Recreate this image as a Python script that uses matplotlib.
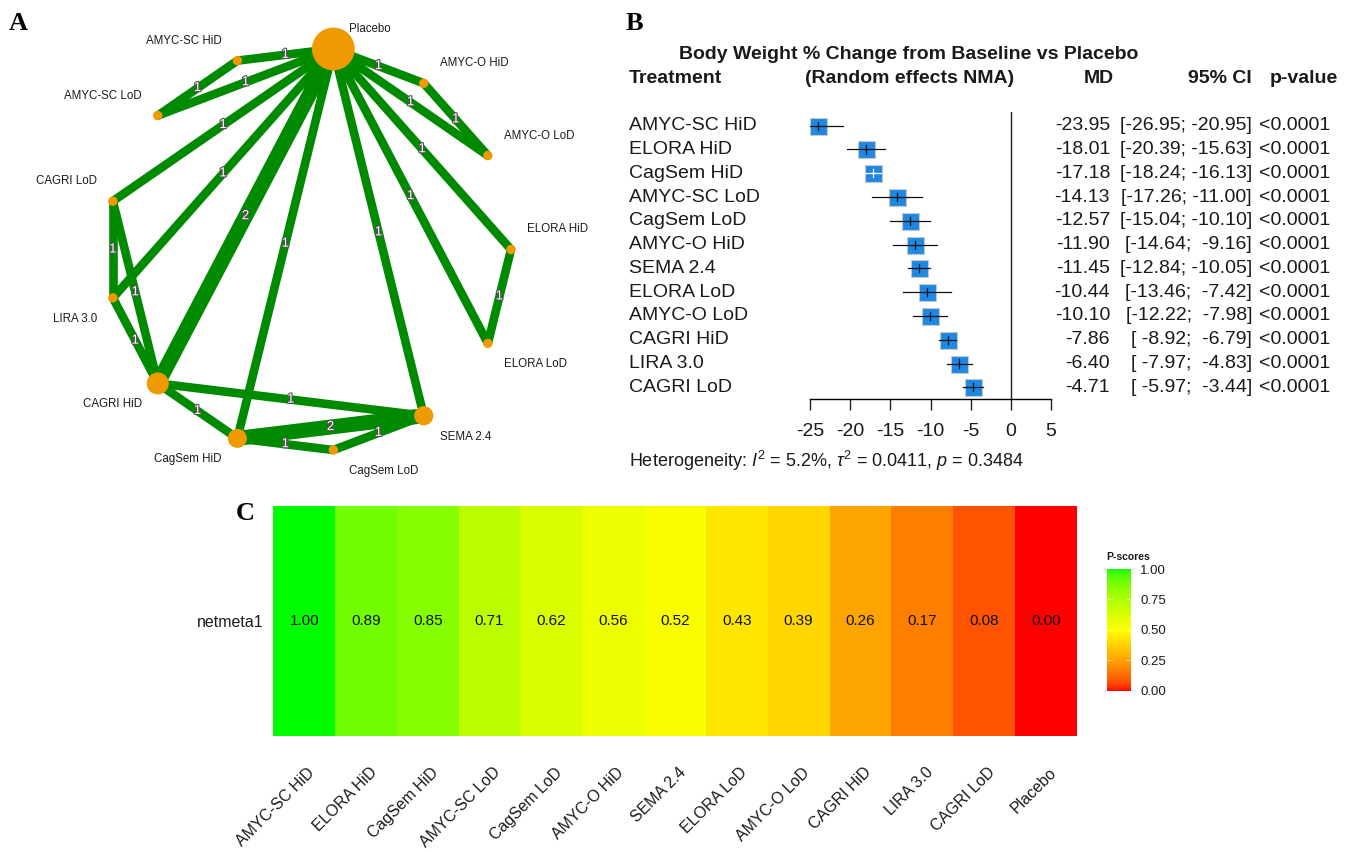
import numpy as np
import matplotlib
matplotlib.use("Agg")
import matplotlib.pyplot as plt
import matplotlib.transforms as mtransforms
import matplotlib.patheffects as pe
from matplotlib.patches import Circle
from matplotlib.colors import ListedColormap

plt.rcParams["font.family"] = ["Liberation Sans", "DejaVu Sans"]
plt.rcParams["mathtext.fontset"] = "custom"
plt.rcParams["mathtext.rm"] = "Liberation Sans"
plt.rcParams["mathtext.it"] = "Liberation Sans:italic"

# ---- data -------------------------------------------------------------
# network (panel A): nodes in circular order, edges with number of studies
net_nodes = ["Placebo", "AMYC-O HiD", "AMYC-O LoD", "ELORA HiD", "ELORA LoD",
             "SEMA 2.4", "CagSem LoD", "CagSem HiD", "CAGRI HiD", "LIRA 3.0",
             "CAGRI LoD", "AMYC-SC LoD", "AMYC-SC HiD"]
edge_from = ["Placebo", "Placebo", "AMYC-SC HiD", "Placebo", "Placebo", "AMYC-O HiD",
             "Placebo", "Placebo", "Placebo", "Placebo", "Placebo", "Placebo", "Placebo",
             "ELORA HiD", "CAGRI LoD", "CAGRI LoD", "LIRA 3.0", "CAGRI HiD", "CAGRI HiD",
             "CagSem HiD", "CagSem HiD", "CagSem LoD"]
edge_to = ["AMYC-SC HiD", "AMYC-SC LoD", "AMYC-SC LoD", "AMYC-O HiD", "AMYC-O LoD",
           "AMYC-O LoD", "CAGRI LoD", "LIRA 3.0", "CAGRI HiD", "CagSem HiD", "SEMA 2.4",
           "ELORA HiD", "ELORA LoD", "ELORA LoD", "LIRA 3.0", "CAGRI HiD", "CAGRI HiD",
           "SEMA 2.4", "CagSem HiD", "SEMA 2.4", "CagSem LoD", "SEMA 2.4"]
edge_studies = [1, 1, 1, 1, 1, 1, 1, 1, 2, 1, 1, 1, 1, 1, 1, 1, 1, 1, 1, 2, 1, 1]

# forest plot (panel B)
treatments = ["AMYC-SC HiD", "ELORA HiD", "CagSem HiD", "AMYC-SC LoD", "CagSem LoD",
              "AMYC-O HiD", "SEMA 2.4", "ELORA LoD", "AMYC-O LoD", "CAGRI HiD",
              "LIRA 3.0", "CAGRI LoD"]
md = [-23.95, -18.01, -17.18, -14.13, -12.57, -11.90, -11.45, -10.44, -10.10, -7.86, -6.40, -4.71]
ci_lo = [-26.95, -20.39, -18.24, -17.26, -15.04, -14.64, -12.84, -13.46, -12.22, -8.92, -7.97, -5.97]
ci_hi = [-20.95, -15.63, -16.13, -11.00, -10.10, -9.16, -10.05, -7.42, -7.98, -6.79, -4.83, -3.44]
p_values = ["<0.0001"] * 12
x_ticks = [-25, -20, -15, -10, -5, 0, 5]

# P-scores (panel C)
rank_names = ["AMYC-SC HiD", "ELORA HiD", "CagSem HiD", "AMYC-SC LoD", "CagSem LoD",
              "AMYC-O HiD", "SEMA 2.4", "ELORA LoD", "AMYC-O LoD", "CAGRI HiD",
              "LIRA 3.0", "CAGRI LoD", "Placebo"]
p_scores = [1.00, 0.89, 0.85, 0.71, 0.62, 0.56, 0.52, 0.43, 0.39, 0.26, 0.17, 0.08, 0.00]
cbar_ticks = [0.0, 0.25, 0.5, 0.75, 1.0]

# ---- style ------------------------------------------------------------
node_radius = {"Placebo": 20.7, "CAGRI HiD": 10.3, "CagSem HiD": 8.8, "SEMA 2.4": 8.9}
small_radius = 4.0
edge_green = "#008A00"
node_orange = "#EE9A00"
box_blue = "#1E88E5"

W, H = 1352, 851
fig = plt.figure(figsize=(W / 100, H / 100), dpi=100)


def axes_px(x0, y0, x1, y1):
    """add axes from pixel box (top-left origin)"""
    return fig.add_axes([x0 / W, 1 - y1 / H, (x1 - x0) / W, (y1 - y0) / H])


panel_font = dict(family=["Liberation Serif", "DejaVu Serif"], fontweight="bold", fontsize=19)
fig.text(18 / W, 1 - 23 / H, "A", ha="center", va="center", **panel_font)
fig.text(634 / W, 1 - 23 / H, "B", ha="center", va="center", **panel_font)
fig.text(245 / W, 1 - 513 / H, "C", ha="center", va="center", **panel_font)

# ---- A: network graph -------------------------------------------------
ax_a = axes_px(0, 0, 620, 490)
ax_a.set_xlim(0, 620)
ax_a.set_ylim(490, 0)
ax_a.axis("off")

cx, cy, rad = 309, 249.5, 202
step = 360 / len(net_nodes)
pos = {}
for k, name in enumerate(net_nodes):
    th = np.deg2rad(90 - step / 4 - k * step)
    pos[name] = (cx + rad * np.cos(th), cy - rad * np.sin(th), th)

for a, b, n in zip(edge_from, edge_to, edge_studies):
    xa, ya, _ = pos[a]
    xb, yb, _ = pos[b]
    ax_a.plot([xa, xb], [ya, yb], color=edge_green, lw=6.2 if n == 1 else 10.8,
              solid_capstyle="butt", zorder=1)

for name in net_nodes:
    x, y, th = pos[name]
    ax_a.add_patch(Circle((x, y), node_radius.get(name, small_radius),
                          color=node_orange, zorder=3))
    right = np.cos(th) > 0
    dy = -20 if np.sin(th) > -0.01 else 21
    ax_a.text(x + (16 if right else -16), y + dy, name, ha="left" if right else "right",
              va="center", fontsize=8.3, color="#1a1a1a")

for a, b, n in zip(edge_from, edge_to, edge_studies):
    xa, ya, _ = pos[a]
    xb, yb, _ = pos[b]
    ax_a.text((xa + xb) / 2, (ya + yb) / 2, str(n), ha="center", va="center",
              fontsize=9.5, color="white", zorder=4,
              path_effects=[pe.withStroke(linewidth=1.6, foreground="#505050")])

# ---- B: forest plot ---------------------------------------------------
row0, row_h = 125.7, 23.78
ax_b = axes_px(810, 111.7, 1051, 399)
ax_b.set_xlim(-25, 5)
ax_b.set_ylim((399 - row0) / row_h, (111.7 - row0) / row_h)
ax_b.patch.set_alpha(0)
for s in ["top", "right", "left"]:
    ax_b.spines[s].set_visible(False)
ax_b.spines["bottom"].set_linewidth(1.0)
ax_b.set_yticks([])
ax_b.set_xticks(x_ticks)
ax_b.set_xticklabels([str(t) for t in x_ticks])
ax_b.tick_params(axis="x", length=8, width=1.0, labelsize=14, pad=9, color="#222222",
                 labelcolor="#1a1a1a")
ax_b.axvline(0, color="#222222", lw=1.0)

sq_px = 17.0
sq_data = sq_px / (241 / 30)
rows = np.arange(len(treatments))
ax_b.scatter(md, rows, marker="s", s=(sq_px * 0.72) ** 2, color=box_blue,
             edgecolor="#C8C8C8", linewidth=0.8, zorder=3)
for i in rows:
    inside = (ci_hi[i] - ci_lo[i]) < sq_data
    col = "white" if inside else "#111111"
    ax_b.plot([ci_lo[i], ci_hi[i]], [i, i], color=col, lw=0.9, zorder=4)
    ax_b.plot([md[i], md[i]], [i - 0.17, i + 0.17], color=col, lw=0.9, zorder=4)

tr = mtransforms.blended_transform_factory(fig.transFigure, ax_b.transData)
txt = dict(transform=tr, fontsize=14, color="#1a1a1a", va="center", clip_on=False)
bold = dict(txt, fontweight="bold")
fig.text(908.5 / W, -3.0, "Body Weight % Change from Baseline vs Placebo", ha="center", **bold)
fig.text(629 / W, -2.0, "Treatment", ha="left", **bold)
fig.text(909.5 / W, -2.0, "(Random effects NMA)", ha="center", **bold)
fig.text(1114 / W, -2.0, "MD", ha="right", **bold)
fig.text(1252 / W, -2.0, "95% CI", ha="right", **bold)
fig.text(1338 / W, -2.0, "p-value", ha="right", **bold)
for i, name in enumerate(treatments):
    fig.text(629 / W, i, name, ha="left", **txt)
    fig.text(1110 / W, i, f"{md[i]:.2f}", ha="right", **txt)
    fig.text(1252 / W, i, f"[{ci_lo[i]:6.2f}; {ci_hi[i]:6.2f}]", ha="right", **txt)
    fig.text(1259 / W, i, p_values[i], ha="left", **txt)
fig.text(629 / W, 14.1, r"Heterogeneity: $I^2$ = 5.2%, $\tau^2$ = 0.0411, $p$ = 0.3484",
         ha="left", **dict(txt, fontsize=13))

# ---- C: P-score heatmap -----------------------------------------------
def srgb_to_lab(c):
    c = np.asarray(c, float)
    lin = np.where(c <= 0.04045, c / 12.92, ((c + 0.055) / 1.055) ** 2.4)
    m = np.array([[0.4124564, 0.3575761, 0.1804375],
                  [0.2126729, 0.7151522, 0.0721750],
                  [0.0193339, 0.1191920, 0.9503041]])
    xyz = lin @ m.T / np.array([0.95047, 1.0, 1.08883])
    d = 6 / 29
    f = np.where(xyz > d ** 3, np.cbrt(xyz), xyz / (3 * d * d) + 4 / 29)
    return np.stack([116 * f[..., 1] - 16, 500 * (f[..., 0] - f[..., 1]),
                     200 * (f[..., 1] - f[..., 2])], axis=-1)


def lab_to_srgb(lab):
    L, a, b = lab[..., 0], lab[..., 1], lab[..., 2]
    fy = (L + 16) / 116
    f = np.stack([fy + a / 500, fy, fy - b / 200], axis=-1)
    d = 6 / 29
    xyz = np.where(f > d, f ** 3, 3 * d * d * (f - 4 / 29)) * np.array([0.95047, 1.0, 1.08883])
    mi = np.array([[3.2404542, -1.5371385, -0.4985314],
                   [-0.9692660, 1.8760108, 0.0415560],
                   [0.0556434, -0.2040259, 1.0572252]])
    lin = np.clip(xyz @ mi.T, 0, 1)
    return np.clip(np.where(lin <= 0.0031308, 12.92 * lin,
                            1.055 * lin ** (1 / 2.4) - 0.055), 0, 1)


anchors = srgb_to_lab([[1, 0, 0], [1, 1, 0], [0, 1, 0]])
t = np.linspace(0, 1, 256)
lab = np.stack([np.interp(t, [0, 0.5, 1], anchors[:, j]) for j in range(3)], axis=-1)
cmap = ListedColormap(lab_to_srgb(lab))

ax_c = axes_px(273.3, 505.7, 1076.7, 735.7)
im = ax_c.imshow(np.array([p_scores]), aspect="auto", cmap=cmap, vmin=0, vmax=1)
for j, v in enumerate(p_scores):
    ax_c.text(j, 0, f"{v:.2f}", ha="center", va="center", fontsize=11, color="#111111")
for s in ax_c.spines.values():
    s.set_visible(False)
ax_c.set_xticks(range(len(rank_names)))
ax_c.set_xticklabels(rank_names, rotation=45, ha="right", rotation_mode="anchor")
ax_c.set_yticks([0])
ax_c.set_yticklabels(["netmeta1"])
ax_c.tick_params(axis="x", length=0, pad=21, labelsize=11.4, labelcolor="#1a1a1a")
ax_c.tick_params(axis="y", length=0, pad=7, labelsize=11.5, labelcolor="#1a1a1a")
shift = mtransforms.ScaledTranslation(3 / 100, 0, fig.dpi_scale_trans)
for lbl in ax_c.get_xticklabels():
    lbl.set_transform(lbl.get_transform() + shift)

cax = axes_px(1106.7, 569, 1131, 690.7)
cb = fig.colorbar(im, cax=cax)
cb.outline.set_visible(False)
cb.set_ticks(cbar_ticks)
cb.set_ticklabels([f"{v:.2f}" for v in cbar_ticks])
cax.tick_params(length=0, pad=6.5, labelsize=9.5, labelcolor="#1a1a1a")
for v in cbar_ticks[1:-1]:
    cax.plot([0, 0.2], [v, v], color="white", lw=0.6, alpha=0.6)
    cax.plot([0.8, 1], [v, v], color="white", lw=0.6, alpha=0.6)
cax.annotate("P-scores", xy=(0, 1), xycoords="axes fraction", xytext=(0, 5),
             textcoords="offset points", ha="left", va="bottom", fontsize=7.5,
             fontweight="bold", color="#1a1a1a")

fig.savefig("out.png", dpi=100)
